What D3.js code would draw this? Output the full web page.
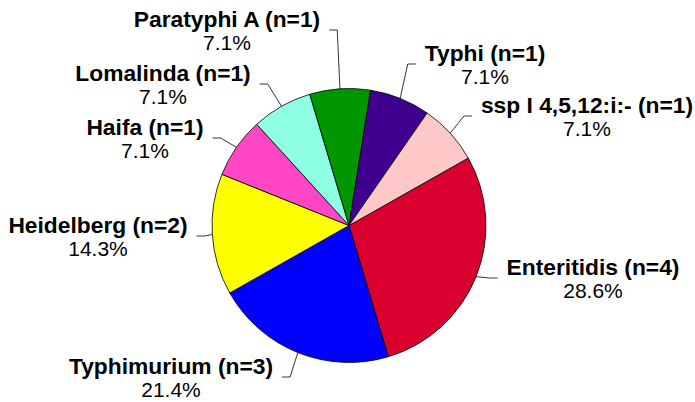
<!DOCTYPE html>
<html>
<head>
<meta charset="utf-8">
<script src="https://cdn.jsdelivr.net/npm/d3@7"></script>
<style>
  body { margin: 0; background: #fff; }
  .lbl-name { font: bold 22.8px "Liberation Sans", Arial, sans-serif; }
  .lbl-pct { font: 21px "Liberation Sans", Arial, sans-serif; }
</style>
</head>
<body>
<div id="chart"></div>
<script>
// serotypes, in drawing order (clockwise)
const serotypes = ["Enteritidis", "Typhimurium", "Heidelberg", "Haifa", "Lomalinda", "Paratyphi A", "Typhi", "ssp I 4,5,12:i:-"];
const counts = [4, 3, 2, 1, 1, 1, 1, 1];
const colors = ["#d90030", "#0000ff", "#ffff00", "#ff46c4", "#8effe3", "#009600", "#3f0090", "#ffc8c8"];

// label placement: [centre x, first baseline]
const labelPos = [[593, 275], [171, 374], [98, 233], [145, 135], [163, 81], [227, 27], [485, 61], [587, 113]];

const width = 695, height = 402;
const cx = 349, cy = 225.5, radius = 137;
const startDeg = 60.5;

const svg = d3.select("#chart").append("svg")
    .attr("width", width)
    .attr("height", height);

const data = serotypes.map((s, i) => ({name: s, n: counts[i], color: colors[i], pos: labelPos[i]}));
const total = d3.sum(counts);
const fmt = d3.format(".1%");

const pie = d3.pie()
    .sort(null)
    .value(d => d.n)
    .startAngle(startDeg * Math.PI / 180)
    .endAngle(startDeg * Math.PI / 180 + 2 * Math.PI);

const arc = d3.arc().innerRadius(0).outerRadius(radius);
const edgeArc = d3.arc().innerRadius(radius).outerRadius(radius);

const g = svg.append("g")
    .attr("transform", `translate(${cx},${cy})`);

const arcs = pie(data);

g.selectAll(".slice")
    .data(arcs)
    .enter()
    .append("path")
    .attr("class", "slice")
    .attr("d", arc)
    .attr("fill", d => d.data.color)
    .attr("stroke", "#000")
    .attr("stroke-width", 0.8);

// labels
const labels = svg.selectAll(".lbl")
    .data(arcs)
    .enter()
    .append("g")
    .attr("class", "lbl");

labels.append("text")
    .attr("class", "lbl-name")
    .attr("x", d => d.data.pos[0])
    .attr("y", d => d.data.pos[1])
    .attr("text-anchor", "middle")
    .text(d => `${d.data.name} (n=${d.data.n})`);

labels.append("text")
    .attr("class", "lbl-pct")
    .attr("x", d => d.data.pos[0])
    .attr("y", d => d.data.pos[1] + 23)
    .attr("text-anchor", "middle")
    .text(d => fmt(d.data.n / total));

// leader lines
labels.each(function (d) {
    let el = d3.select(this);
    let w = el.select(".lbl-name").node().getComputedTextLength();
    let [ex, ey] = edgeArc.centroid(d);
    ex += cx; ey += cy;
    let lx = d.data.pos[0], ly = d.data.pos[1] + 3;
    let endX, kneeX;
    if (lx < ex) {
        endX = lx + w / 2 + 9;
        kneeX = endX + 8;
    } else {
        endX = lx - w / 2 - 9;
        kneeX = endX - 8;
    }
    el.append("polyline")
        .attr("points", `${ex},${ey} ${kneeX},${ly} ${endX},${ly}`)
        .attr("fill", "none")
        .attr("stroke", "#000")
        .attr("stroke-width", 0.8);
});
</script>
</body>
</html>
